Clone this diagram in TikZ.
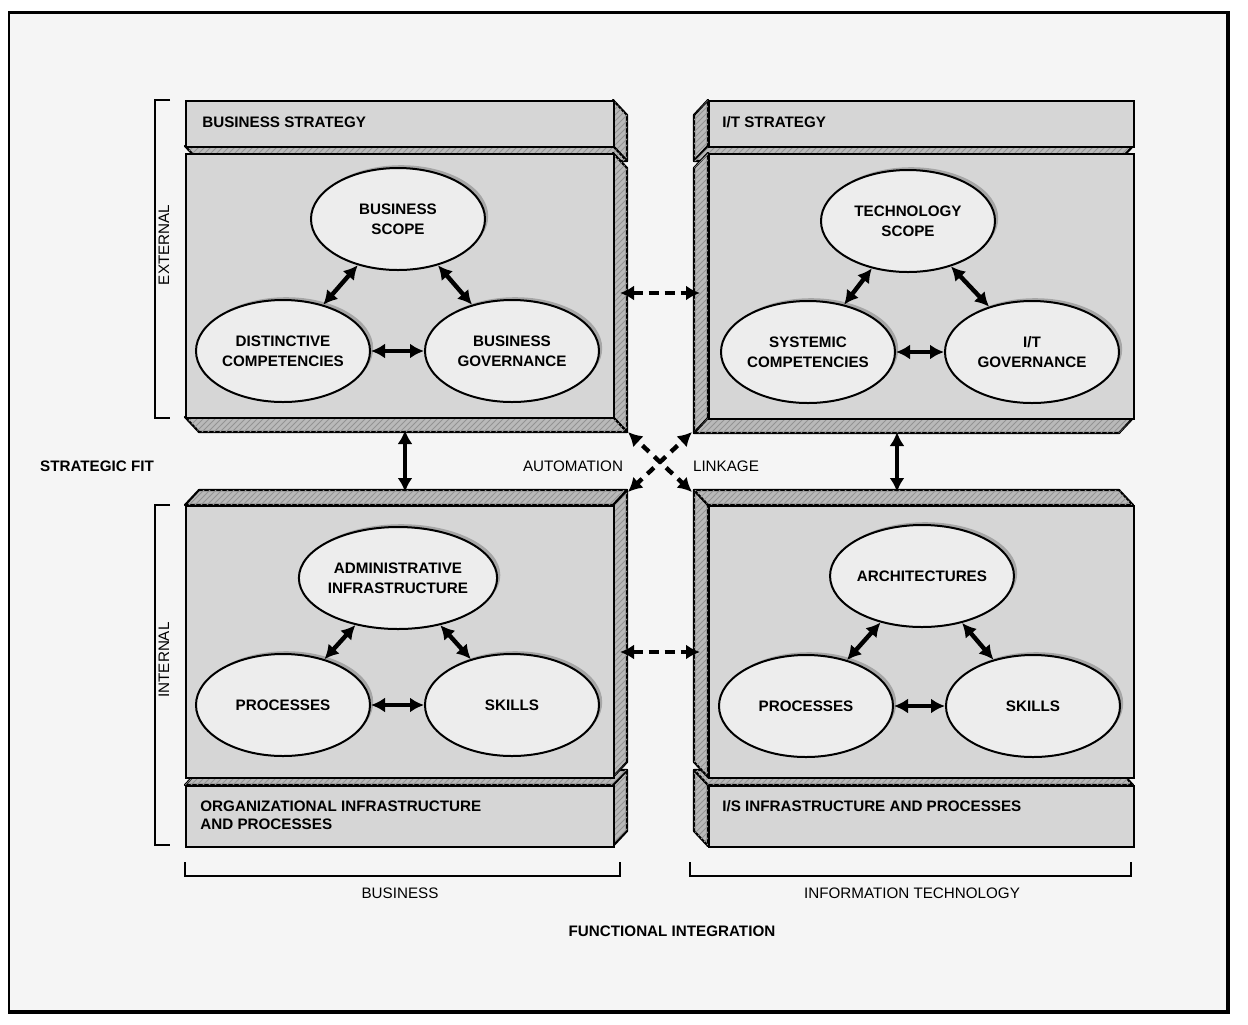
\documentclass[tikz,border=0pt]{standalone}
\usepackage{fontspec}
\setmainfont{Liberation Sans}
\usetikzlibrary{arrows.meta,shadows,patterns,shapes.geometric}

\newcommand\myvface[5]{\filldraw[side] (#1,#2) -- ++(#4,#5) -- ++(0,{#3-(#2)}) -- ++({-(#4)},{-(#5)}) -- cycle;}
\newcommand\myhface[5]{\filldraw[side] (#2,#1) -- ++(#4,#5) -- ++({#3-(#2)},0) -- ++({-(#4)},{-(#5)}) -- cycle;}

\tikzset{
  front/.style={draw=black, line width=1.1pt, fill=gray!32, inner sep=0pt, anchor=north west},
  side/.style={draw=black, line width=1.1pt, fill=gray!55, line join=round,
     postaction={pattern=north east lines, pattern color=gray!85}},
  oval/.style={ellipse, draw=black, line width=1pt, fill=gray!14, minimum width=87pt,
     minimum height=51pt, align=center, inner sep=0pt,
     font=\bfseries\fontsize{7.6}{9.8}\selectfont,
     drop shadow={shadow xshift=1.6pt, shadow yshift=1.4pt, fill=gray!70, opacity=1}},
  dbl/.style={line width=2.2pt, {Latex[length=7pt,width=7.5pt]}-{Latex[length=7pt,width=7.5pt]}},
  dbldash/.style={dbl, dash pattern=on 5pt off 3pt},
  xdash/.style={dbl, dash pattern=on 4.5pt off 3.6pt, dash phase=4.5pt},
  lbl/.style={font=\fontsize{7.6}{9}\selectfont, inner sep=0pt},
  blbl/.style={font=\bfseries\fontsize{7.6}{9}\selectfont, inner sep=0pt},
  bracket/.style={line width=0.9pt},
}

\begin{document}
\begin{tikzpicture}[x=0.5pt,y=-0.5pt]
\useasboundingbox (0,0) rectangle (1248,1024);
% frame
\fill[gray!8] (9,12) rectangle (1228,1012);
\draw[line width=0.9pt] (9,12) -- (9,1012);
\draw[line width=1.5pt] (8,12) -- (1230,12);
\draw[line width=2.4pt] (1228,11) -- (1228,1013);
\draw[line width=2pt] (8,1012) -- (1230,1012);

% ---------- top-left box (depth 14,15)
\myvface{613}{100}{146}{14}{15}
\myhface{146}{185}{613}{14}{15}
\node[front, minimum width=214pt, minimum height=23pt] (tlstrip) at (185,100) {};
\myvface{613}{153}{417}{14}{15}
\myhface{417}{185}{613}{14}{15}
\node[front, minimum width=214pt, minimum height=132pt] (tlmain) at (185,153) {};

% ---------- top-right box (depth -14,15)
\myvface{708}{100}{146}{-14}{15}
\myhface{146}{708}{1133}{-14}{15}
\node[front, minimum width=212.5pt, minimum height=23pt] (trstrip) at (708,100) {};
\myvface{708}{153}{418}{-14}{15}
\myhface{418}{708}{1133}{-14}{15}
\node[front, minimum width=212.5pt, minimum height=132.5pt] (trmain) at (708,153) {};

% ---------- bottom-left box (depth 14,-15)
\myvface{613}{785}{846}{14}{-15}
\myhface{785}{185}{613}{14}{-15}
\node[front, minimum width=214pt, minimum height=30.5pt] (blstrip) at (185,785) {};
\myvface{613}{505}{777}{14}{-15}
\myhface{505}{185}{613}{14}{-15}
\node[front, minimum width=214pt, minimum height=136pt] (blmain) at (185,505) {};

% ---------- bottom-right box (depth -14,-15)
\myvface{708}{785}{846}{-14}{-15}
\myhface{785}{708}{1133}{-14}{-15}
\node[front, minimum width=212.5pt, minimum height=30.5pt] (brstrip) at (708,785) {};
\myvface{708}{505}{777}{-14}{-15}
\myhface{505}{708}{1133}{-14}{-15}
\node[front, minimum width=212.5pt, minimum height=136pt] (brmain) at (708,505) {};

% strip texts
\node[blbl, anchor=west] (bstrat) at (202,122) {BUSINESS STRATEGY};
\node[blbl, anchor=west] (itstrat) at (722,122) {I/T STRATEGY};
\node[blbl, anchor=west, align=left] (orginf) at (200,815) {ORGANIZATIONAL INFRASTRUCTURE\\AND PROCESSES};
\node[blbl, anchor=west] (isinf) at (722,806) {I/S INFRASTRUCTURE AND PROCESSES};

% ellipses
\node[oval] (bscope) at (398,219) {BUSINESS\\SCOPE};
\node[oval] (dcomp) at (283,351) {DISTINCTIVE\\COMPETENCIES};
\node[oval] (bgov) at (512,351) {BUSINESS\\GOVERNANCE};
\node[oval] (tscope) at (908,221) {TECHNOLOGY\\SCOPE};
\node[oval] (scomp) at (808,352) {SYSTEMIC\\COMPETENCIES};
\node[oval] (itgov) at (1032,352) {I/T\\GOVERNANCE};
\node[oval] (admin) at (398,578) {ADMINISTRATIVE\\INFRASTRUCTURE};
\node[oval] (procl) at (283,705) {PROCESSES};
\node[oval] (skillsl) at (512,705) {SKILLS};
\node[oval] (arch) at (922,576) {ARCHITECTURES};
\node[oval] (procr) at (806,706) {PROCESSES};
\node[oval] (skillsr) at (1033,706) {SKILLS};

% arrows in boxes
\draw[dbl] (bscope) -- (dcomp);
\draw[dbl] (bscope) -- (bgov);
\draw[dbl] (dcomp) -- (bgov);
\draw[dbl] (tscope) -- (scomp);
\draw[dbl] (tscope) -- (itgov);
\draw[dbl] (scomp) -- (itgov);
\draw[dbl] (admin) -- (procl);
\draw[dbl] (admin) -- (skillsl);
\draw[dbl] (procl) -- (skillsl);
\draw[dbl] (arch) -- (procr);
\draw[dbl] (arch) -- (skillsr);
\draw[dbl] (procr) -- (skillsr);

% arrows between boxes
\coordinate (ht1) at (620,293); \coordinate (ht2) at (700,293);
\coordinate (hb1) at (620,652); \coordinate (hb2) at (700,652);
\coordinate (vl1) at (405,430); \coordinate (vl2) at (405,492);
\coordinate (vr1) at (897,432); \coordinate (vr2) at (897,492);
\coordinate (d1) at (628,432); \coordinate (d2) at (692,492);
\coordinate (d3) at (692,432); \coordinate (d4) at (628,492);
\draw[dbldash] (ht1) -- (ht2);
\draw[dbldash] (hb1) -- (hb2);
\draw[dbl] (vl1) -- (vl2);
\draw[dbl] (vr1) -- (vr2);
\draw[xdash] (d1) -- (d2);
\draw[xdash] (d3) -- (d4);

% labels
\node[lbl] (auto) at (573,466) {AUTOMATION};
\node[lbl] (link) at (726,466) {LINKAGE};
\node[blbl] (sfit) at (97,466) {STRATEGIC FIT};
\node[blbl] (finteg) at (672,931) {FUNCTIONAL INTEGRATION};

% brackets
\draw[bracket] (170,100) -- (155,100) -- (155,418) -- (170,418);
\draw[bracket] (170,505) -- (155,505) -- (155,845) -- (170,845);
\draw[bracket] (185,862) -- (185,876) -- (620,876) -- (620,862);
\draw[bracket] (690,862) -- (690,876) -- (1131,876) -- (1131,862);
\node[lbl, rotate=90] (ext) at (164,245) {EXTERNAL};
\node[lbl, rotate=90] (int) at (164,660) {INTERNAL};
\node[lbl] (bus) at (400,893) {BUSINESS};
\node[lbl] (infotech) at (912,893) {INFORMATION TECHNOLOGY};
\end{tikzpicture}
\end{document}
